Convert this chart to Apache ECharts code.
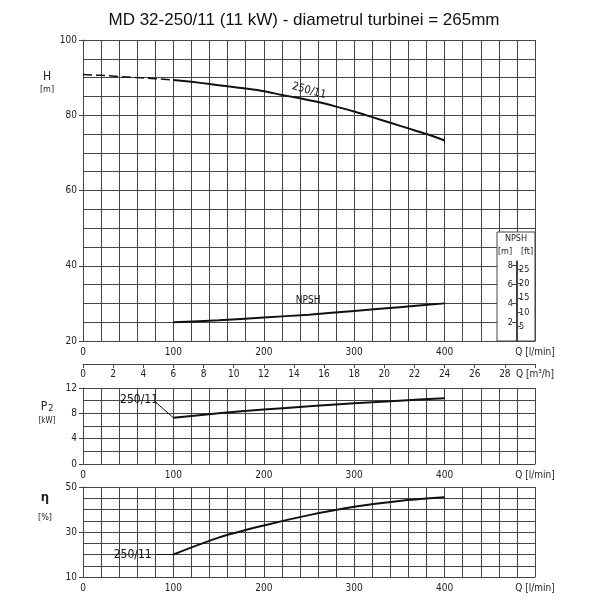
<!DOCTYPE html>
<html>
<head>
<meta charset="utf-8">
<script src="https://cdn.jsdelivr.net/npm/echarts@6/dist/echarts.min.js"></script>
<style>
  html, body { margin: 0; padding: 0; background: #fff; }
  #chart { width: 608px; height: 608px; }
</style>
</head>
<body>
<div id="chart"></div>
<script>
// data, Q in l/min
const headDashed = [[0, 90.8], [20, 90.6], [40, 90.3], [60, 90.0], [80, 89.7], [100, 89.4]];
const headSolid = [
  [100, 89.4], [120, 88.9], [140, 88.3], [160, 87.7], [180, 87.1], [200, 86.4],
  [220, 85.4], [240, 84.5], [260, 83.5], [280, 82.3], [300, 81.0], [320, 79.5],
  [340, 78.0], [360, 76.5], [380, 75.0], [400, 73.3]
];
const npshM = [[100, 2.0], [150, 2.2], [200, 2.5], [250, 2.8], [300, 3.2], [350, 3.6], [400, 4.0]];
const powerKW = [[100, 7.3], [150, 8.0], [200, 8.6], [250, 9.1], [300, 9.6], [350, 10.0], [400, 10.4]];
const efficiency = [[100, 20.0], [150, 27.5], [200, 32.9], [250, 37.5], [300, 41.2], [350, 43.8], [400, 45.4]];

const curveName = '250/11';
const title = 'MD 32-250/11 (11 kW) - diametrul turbinei = 265mm';

const FONT = 'DejaVu Sans Condensed';
const gridColor = '#444';
const inkColor = '#111';

const chart = echarts.init(document.getElementById('chart'));

const lineStyle = { color: gridColor, width: 1 };
const labelStyle = { fontFamily: FONT, fontSize: 10, color: '#222' };

// x axis in l/min shared by the three panels
const qAxis = gridIndex => ({
  type: 'value',
  gridIndex,
  min: 0,
  max: 500,
  interval: 100,
  axisLine: { lineStyle },
  axisTick: { show: false },
  axisLabel: {
    ...labelStyle,
    margin: 6,
    formatter: v => (v === 500 ? 'Q [l/min]' : String(v)),
  },
  splitLine: { show: true, lineStyle },
  minorTick: { show: false, splitNumber: 5 },
  minorSplitLine: { show: true, lineStyle },
});

const valueAxis = (gridIndex, min, max, interval, minorSplit) => ({
  type: 'value',
  gridIndex,
  min,
  max,
  interval,
  axisLine: { show: true, lineStyle },
  axisTick: { show: true, length: 4, lineStyle },
  axisLabel: { ...labelStyle, margin: 6 },
  splitLine: { show: true, lineStyle },
  minorTick: { show: false, splitNumber: minorSplit },
  minorSplitLine: { show: true, lineStyle },
});

const curve = (data, xAxisIndex, yAxisIndex, extra) => ({
  type: 'line',
  data,
  xAxisIndex,
  yAxisIndex,
  symbol: 'none',
  smooth: 0.3,
  lineStyle: { color: inkColor, width: 2 },
  silent: true,
  ...extra,
});

const textMark = (coord, text, size, rotate) => ({
  symbol: 'circle',
  symbolSize: 0,
  silent: true,
  data: [{ coord }],
  label: {
    show: true,
    position: 'inside',
    formatter: text,
    fontFamily: FONT,
    fontSize: size,
    color: inkColor,
    rotate: rotate || 0,
  },
});

const leader = (from, to) => ({
  symbol: 'none',
  silent: true,
  label: { show: false },
  lineStyle: { color: inkColor, width: 1, type: 'solid' },
  data: [[{ coord: from }, { coord: to }]],
});

const sideText = (x, y, text, size, extra) => ({
  type: 'text',
  x,
  y,
  style: {
    text,
    fontFamily: FONT,
    fontSize: size,
    fill: '#222',
    align: 'center',
    verticalAlign: 'middle',
    ...extra,
  },
});

const option = {
  animation: false,
  backgroundColor: '#fff',
  title: {
    text: title,
    left: 'center',
    top: 7,
    textStyle: { fontFamily: 'Liberation Sans', fontSize: 17, fontWeight: 'normal', color: inkColor },
  },
  grid: [
    { left: 83, right: 73, top: 40, height: 301 },
    { left: 83, right: 73, top: 362, height: 2 },
    { left: 83, right: 73, top: 388, height: 76 },
    { left: 83, right: 73, top: 487, height: 90 },
    { left: 516, width: 1, top: 261, height: 80 },
  ],
  xAxis: [
    qAxis(0),
    {
      type: 'value',
      gridIndex: 1,
      min: 0,
      max: 30,
      interval: 2,
      axisLine: { lineStyle },
      axisTick: { show: true, length: 4, lineStyle },
      axisLabel: {
        ...labelStyle,
        margin: 5,
        formatter: v => (v === 30 ? 'Q [m³/h]' : String(v)),
      },
      splitLine: { show: false },
    },
    qAxis(2),
    qAxis(3),
    { type: 'value', gridIndex: 4, min: 0, max: 1, show: false },
  ],
  yAxis: [
    valueAxis(0, 20, 100, 20, 4),
    { type: 'value', gridIndex: 0, min: 0, max: 32, show: false },
    valueAxis(2, 0, 12, 4, 2),
    valueAxis(3, 10, 50, 20, 4),
    {
      type: 'value',
      gridIndex: 4,
      position: 'left',
      min: 0,
      max: 8.5,
      interval: 2,
      z: 10,
      axisLine: { show: true, lineStyle },
      axisTick: { show: true, length: 4, lineStyle },
      axisLabel: { ...labelStyle, fontSize: 9, margin: 3, showMinLabel: false, showMaxLabel: false },
      splitLine: { show: false },
    },
    {
      type: 'value',
      gridIndex: 4,
      position: 'right',
      min: 0,
      max: 8.5 / 0.3048,
      interval: 5,
      z: 10,
      axisLine: { show: true, lineStyle },
      axisTick: { show: true, length: 4, lineStyle },
      axisLabel: { ...labelStyle, fontSize: 9, margin: 2, showMinLabel: false, showMaxLabel: false },
      splitLine: { show: false },
    },
    { type: 'value', gridIndex: 1, min: 0, max: 1, show: false },
  ],
  graphic: [
    {
      type: 'rect',
      z: 5,
      shape: { x: 497, y: 232, width: 38, height: 109 },
      style: { fill: '#fff', stroke: gridColor, lineWidth: 1 },
    },
    { ...sideText(516, 239, 'NPSH', 9), z: 6 },
    { ...sideText(505, 252, '[m]', 9), z: 6 },
    { ...sideText(527, 252, '[ft]', 9), z: 6 },
    sideText(47, 77, 'H', 12),
    sideText(47, 90, '[m]', 9),
    {
      type: 'text',
      x: 47,
      y: 407,
      style: {
        text: 'P{s|2}',
        fontFamily: FONT,
        fontSize: 12,
        fill: '#222',
        align: 'center',
        verticalAlign: 'middle',
        rich: { s: { fontFamily: FONT, fontSize: 9, fill: '#222', padding: [4, 0, 0, 1] } },
      },
    },
    sideText(47, 421, '[kW]', 8),
    sideText(45, 498, 'η', 13, { fontWeight: 'bold' }),
    sideText(45, 518, '[%]', 9),
  ],
  series: [
    curve(headDashed, 0, 0, {
      smooth: false,
      lineStyle: { color: inkColor, width: 1.5, type: [9, 4] },
    }),
    curve(headSolid, 0, 0, {
      markPoint: textMark([250, 86.5], curveName, 11, -16),
      markLine: leader([400, 72.4], [400, 74.3]),
    }),
    curve(npshM, 0, 1, {
      markPoint: textMark([249, 4.3], 'NPSH', 10),
    }),
    curve(powerKW, 2, 2, {
      markPoint: textMark([62, 10.2], curveName, 12),
      markLine: leader([80, 9.8], [100, 7.3]),
    }),
    curve(efficiency, 3, 3, {
      markPoint: textMark([55, 20], curveName, 12),
      markLine: leader([80, 20], [100, 20]),
    }),
  ],
};

chart.setOption(option);
</script>
</body>
</html>
